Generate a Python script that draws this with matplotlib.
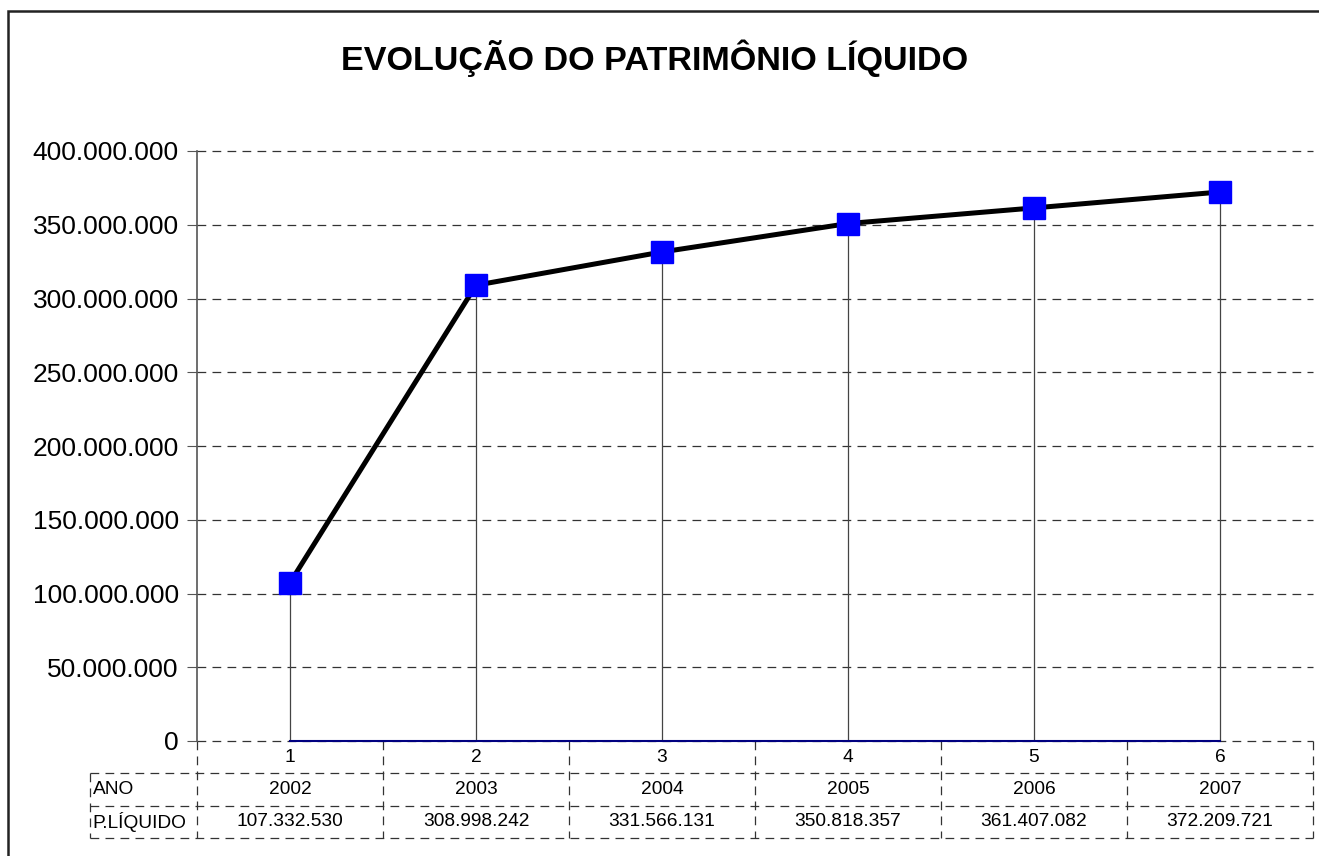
import matplotlib.pyplot as plt
from matplotlib.patches import Rectangle
from matplotlib.ticker import FuncFormatter
import matplotlib.transforms as mtransforms

plt.rcParams['font.family'] = ['Liberation Sans', 'DejaVu Sans']

categorias = ["1", "2", "3", "4", "5", "6"]
anos = ["2002", "2003", "2004", "2005", "2006", "2007"]
patrimonio = [107332530, 308998242, 331566131, 350818357, 361407082, 372209721]
zeros = [0, 0, 0, 0, 0, 0]
titulo = "EVOLUÇÃO DO PATRIMÔNIO LÍQUIDO"


def fmt_br(v):
    return f"{int(v):,}".replace(",", ".")


W, H = 1319, 856
fig = plt.figure(figsize=(W / 100, H / 100), dpi=100)
ax = fig.add_axes([197 / W, (H - 741) / H, (1313 - 197) / W, 590 / H])

x = [i + 0.5 for i in range(len(categorias))]

ax.set_xlim(0, len(categorias))
ax.set_ylim(0, 400000000)
ax.set_yticks(range(0, 400000001, 50000000))
ax.yaxis.set_major_formatter(FuncFormatter(lambda v, p: fmt_br(v)))
ax.tick_params(axis='y', labelsize=19, length=7, color='#555555', pad=6)
ax.set_xticks([])

for s in ['top', 'right', 'bottom']:
    ax.spines[s].set_visible(False)
ax.spines['left'].set_color('#555555')
ax.spines['left'].set_linewidth(1.2)

for yv in range(0, 400000001, 50000000):
    ax.axhline(yv, color='#333333', lw=0.9, ls=(0, (7, 5)), zorder=1, clip_on=False)

ax.vlines(x, 0, patrimonio, color='#444444', lw=0.9, zorder=2)
ax.plot(x, zeros, color='#000080', lw=1.5, zorder=3, clip_on=False)
ax.plot(x, patrimonio, color='black', lw=3.6, marker='s', markersize=16,
        markerfacecolor='#0000FF', markeredgecolor='#0000FF', zorder=4, clip_on=False)

# tabela de dados abaixo do eixo
trans = mtransforms.blended_transform_factory(ax.transData, ax.transAxes)
row = 32.3 / 590
dash = dict(color='#333333', lw=0.9, ls=(0, (7, 5)), transform=trans, clip_on=False)
left_x = (90 - 197) / 186
n = len(categorias)
for k in range(n + 1):
    ax.plot([k, k], [0, -3 * row], **dash)
ax.plot([left_x, left_x], [-row, -3 * row], **dash)
for r in range(1, 4):
    ax.plot([left_x, n], [-r * row, -r * row], **dash)

fs = 13.8
for i in range(n):
    ax.text(x[i], -0.5 * row, categorias[i], transform=trans, ha='center', va='center', fontsize=fs)
    ax.text(x[i], -1.5 * row, anos[i], transform=trans, ha='center', va='center', fontsize=fs)
    ax.text(x[i], -2.5 * row, fmt_br(patrimonio[i]), transform=trans, ha='center', va='center', fontsize=fs)
ax.text(left_x + 0.015, -1.5 * row, "ANO", transform=trans, ha='left', va='center', fontsize=fs)
ax.text(left_x + 0.015, -2.5 * row, "P.LÍQUIDO", transform=trans, ha='left', va='center', fontsize=fs)

fig.text(655 / W, 1 - 58 / H, titulo, ha='center', va='center', fontsize=24.6, fontweight='bold')

fig.patches.append(Rectangle((8 / W, -0.1), 1.2, 1 - 11 / H + 0.1, transform=fig.transFigure,
                             fill=False, edgecolor='#222222', lw=1.8))

fig.savefig("out.png", dpi=100)
